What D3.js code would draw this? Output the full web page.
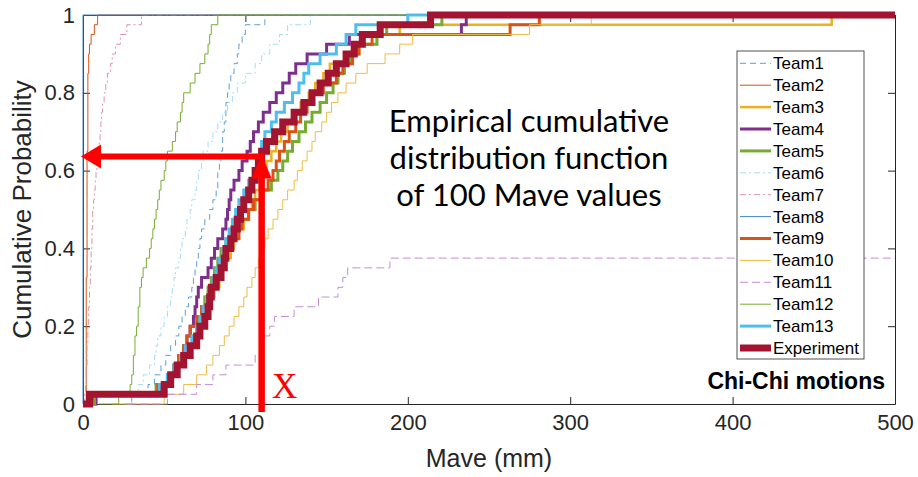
<!DOCTYPE html>
<html>
<head>
<meta charset="utf-8">
<script src="https://cdn.jsdelivr.net/npm/d3@7"></script>
<style>
  body { margin: 0; background: #fff; }
  svg { display: block; font-family: "Liberation Sans", Arial, sans-serif; }
</style>
</head>
<body>
<svg id="chart" width="918" height="477"></svg>
<script>
// Empirical CDFs of Mave.
// Each series lists the Mave value where the curve reaches the matching cumulative probability.
const probLevels = [0, 0.025, 0.05, 0.075, 0.1, 0.125, 0.15, 0.175, 0.2, 0.225, 0.25,
    0.275, 0.3, 0.325, 0.35, 0.375, 0.4, 0.425, 0.45, 0.475, 0.5,
    0.525, 0.55, 0.575, 0.6, 0.625, 0.65, 0.675, 0.7, 0.725, 0.75,
    0.775, 0.8, 0.825, 0.85, 0.875, 0.9, 0.925, 0.95, 0.975, 1];

const team1 = [25, 30, 40, 44, 48, 51, 54, 57, 59, 61, 63, 65, 67, 68, 69, 70, 71, 72, 73, 75, 78,
    80, 82, 83, 83, 84, 85, 86, 86, 87, 88, 88, 89, 90, 91, 93, 95, 96, 98, 100, 112];
const team2 = [1.5, 2, 2, 2, 2, 2, 2, 2, 2, 2, 2, 2, 2, 2, 2.5, 2.5, 2.5, 2.5, 2.5, 2.5, 2.5,
    2.5, 2.5, 2.5, 2.5, 2.5, 2.5, 3, 3, 3, 3, 3, 3, 3, 3, 3.5, 3.5, 4, 5, 7, 9];
const team3 = [3, 8, 47, 53, 57, 61, 65, 68, 71, 74, 77, 79, 81, 84, 86, 88, 91, 93, 96, 99, 102,
    104, 106, 109, 111, 113, 116, 119, 122, 126, 130, 134, 139, 143, 148, 152, 162, 170, 181, 195, 461];
const team4 = [5, 8, 48, 52, 56, 59, 62, 64, 66, 68, 69, 70, 71, 73, 77, 79, 81, 83, 86, 88, 89,
    90, 91, 93, 96, 98, 101, 103, 105, 108, 111, 115, 119, 123, 127, 131, 138, 150, 164, 233, 236];
const team5 = [2, 7, 45, 53, 58, 62, 65, 68, 70, 71, 73, 75, 77, 79, 81, 83, 85, 88, 92, 97, 102,
    106, 111, 116, 120, 123, 126, 129, 133, 137, 141, 146, 150, 154, 157, 161, 165, 169, 181, 187, 221];
const team6 = [28, 30, 34, 37, 41, 44, 45, 46, 48, 50, 52, 54, 55, 56, 57, 59, 60, 61, 63, 64, 66,
    67, 69, 70, 71, 73, 74, 77, 80, 83, 86, 89, 92, 95, 100, 106, 110, 115, 121, 126, 140];
const team7 = [0.5, 1, 1.5, 2, 2, 2.5, 2.5, 3, 3, 3.5, 3.5, 4, 4, 4.5, 4.5, 5, 5, 5.5, 5.5, 6, 6,
    6.5, 7, 7.5, 8, 8.5, 9, 10, 10.5, 11, 11.5, 12, 13, 14, 15, 17, 18, 20, 23, 27, 36];
const team8 = [0, 0, 0, 0, 0, 0, 0, 0, 0, 0, 0, 0, 0, 0, 0, 0, 0, 0, 0, 0, 0,
    0, 0, 0, 0, 0, 0, 0, 0, 0, 0, 0, 0, 0, 0, 0, 0, 0, 0, 0, 0];
const team9 = [3, 6, 46, 52, 56, 59, 62, 64, 66, 70, 73, 76, 79, 82, 84, 87, 89, 92, 96, 98, 102,
    105, 110, 114, 117, 119, 121, 124, 127, 131, 134, 138, 142, 148, 156, 160, 166, 170, 178, 263, 281];
const team10 = [18, 50, 62, 70, 76, 80, 84, 87, 90, 93, 96, 99, 101, 104, 106, 108, 110, 112, 114, 117, 120,
    123, 126, 130, 132, 135, 138, 141, 143, 147, 150, 153, 157, 162, 168, 175, 186, 195, 203, 275, 313];
// only 38% of Team11 values fall below 500 mm
const team11 = [28, 52, 70, 80, 88, 106, 109, 111, 115, 118, 130, 145, 157, 160, 163, 189];
const team12 = [10, 22, 29, 30, 31, 31, 32, 32, 33, 34, 34, 35, 35, 36, 37, 39, 41, 42, 43, 44, 45,
    46, 47, 48, 50, 51, 52, 55, 57, 58, 60, 61, 62, 66, 69, 72, 75, 77, 78, 79, 83];
const team13 = [2, 5, 47, 52, 56, 60, 63, 67, 70, 72, 74, 76, 78, 80, 82, 84, 86, 88, 90, 92, 94,
    96, 99, 102, 105, 107, 109, 110, 112, 116, 119, 124, 129, 133, 136, 139, 146, 156, 162, 168, 200];
const experiment = [0, 4, 50, 54, 58, 62, 66, 70, 72, 75, 77, 78, 79, 82, 85, 87, 88, 91, 93, 95, 97,
    99, 102, 104, 106, 108, 110, 113, 118, 123, 130, 136, 141, 146, 151, 156, 162, 167, 172, 183, 214];

const seriesNames = ["Team1", "Team2", "Team3", "Team4", "Team5", "Team6", "Team7",
    "Team8", "Team9", "Team10", "Team11", "Team12", "Team13", "Experiment"];
const seriesValues = [team1, team2, team3, team4, team5, team6, team7,
    team8, team9, team10, team11, team12, team13, experiment];

const xTicks = [0, 100, 200, 300, 400, 500];
const yTicks = [0, 0.2, 0.4, 0.6, 0.8, 1];

// the marked reading: Mave = X gives cumulative probability ~0.636
const arrowMave = 110;
const arrowProb = 0.636;

// line styles, same order as seriesNames
const seriesStyles = [
    { color: "#5b9fd8", width: 1, dash: "6,4" },
    { color: "#D95319", width: 1, dash: null },
    { color: "#EDB120", width: 2.5, dash: null },
    { color: "#7E2F8E", width: 3, dash: null },
    { color: "#77AC30", width: 3, dash: null },
    { color: "#a6dcf4", width: 1, dash: "6,3,2,3" },
    { color: "#dc93a8", width: 1, dash: "6,3,2,3" },
    { color: "#3f86c8", width: 1, dash: null },
    { color: "#D95319", width: 3, dash: null },
    { color: "#F0BB45", width: 1, dash: null },
    { color: "#C48DD3", width: 1, dash: "8,4" },
    { color: "#77AC30", width: 1, dash: null },
    { color: "#4DBEEE", width: 3, dash: null },
    { color: "#A2142F", width: 7, dash: null }
];

const svg = d3.select("#chart");
const textColor = "#262626";

const x = d3.scaleLinear().domain([0, 500]).range([83, 895]);
const y = d3.scaleLinear().domain([0, 1]).range([404, 15]);

// axes box with inward ticks on all four sides
const axisG = svg.append("g").attr("class", "axes");

axisG.append("g")
    .attr("transform", `translate(0,${y(0)})`)
    .call(d3.axisBottom(x).tickValues(xTicks).tickSizeInner(-7).tickSizeOuter(0).tickPadding(10));
axisG.append("g")
    .attr("transform", `translate(${x(0)},0)`)
    .call(d3.axisLeft(y).tickValues(yTicks).tickSizeInner(-7).tickSizeOuter(0).tickPadding(8)
        .tickFormat(d => d3.format("~g")(d)));
axisG.append("g")
    .attr("transform", `translate(0,${y(1)})`)
    .call(d3.axisTop(x).tickValues(xTicks).tickSizeInner(-7).tickSizeOuter(0).tickFormat(""));
axisG.append("g")
    .attr("transform", `translate(${x(500)},0)`)
    .call(d3.axisRight(y).tickValues(yTicks).tickSizeInner(-7).tickSizeOuter(0).tickFormat(""));

axisG.selectAll("path.domain, line").attr("stroke", textColor).attr("stroke-width", 1);
axisG.selectAll("text")
    .attr("fill", textColor)
    .style("font-size", "22px")
    .style("font-family", "'Liberation Sans', Arial, sans-serif");

// axis labels
svg.append("text")
    .attr("x", (x(0) + x(500)) / 2)
    .attr("y", 467)
    .attr("text-anchor", "middle")
    .attr("fill", textColor)
    .style("font-size", "25px")
    .text("Mave (mm)");

svg.append("text")
    .attr("transform", `translate(31,${(y(0) + y(1)) / 2}) rotate(-90)`)
    .attr("text-anchor", "middle")
    .attr("fill", textColor)
    .style("font-size", "26px")
    .text("Cumulative Probability");

// ECDF stairs
const stairs = d3.line()
    .x(d => x(d[0]))
    .y(d => y(d[1]))
    .curve(d3.curveStepAfter);

const curveG = svg.append("g").attr("class", "curves");
seriesValues.forEach((vals, i) => {
    const pts = vals.map((v, k) => [v, probLevels[k]]);
    pts.push([500, probLevels[vals.length - 1]]);
    const st = seriesStyles[i];
    curveG.append("path")
        .datum(pts)
        .attr("d", stairs)
        .attr("fill", "none")
        .attr("stroke", st.color)
        .attr("stroke-width", st.width)
        .attr("stroke-dasharray", st.dash)
        .attr("stroke-linejoin", "miter");
});

// red arrows marking the reading at Mave = X
const red = "#FF0000";
const ax = x(arrowMave);
const ay = y(arrowProb);
const arrowG = svg.append("g").attr("class", "arrows");

arrowG.append("line")
    .attr("x1", ax + 3).attr("x2", x(0) + 16)
    .attr("y1", ay).attr("y2", ay)
    .attr("stroke", red).attr("stroke-width", 6);
arrowG.append("path")
    .attr("d", `M${x(0) - 2},${ay} L${x(0) + 18},${ay - 12} L${x(0) + 18},${ay + 12} Z`)
    .attr("fill", red);

arrowG.append("line")
    .attr("x1", ax).attr("x2", ax)
    .attr("y1", y(0) + 8).attr("y2", ay + 20)
    .attr("stroke", red).attr("stroke-width", 6.5);
arrowG.append("path")
    .attr("d", `M${ax},${ay - 2} L${ax - 10},${ay + 22} L${ax + 10},${ay + 22} Z`)
    .attr("fill", red);

svg.append("text")
    .attr("x", ax + 23)
    .attr("y", 398)
    .attr("text-anchor", "middle")
    .attr("fill", red)
    .style("font-family", "'Liberation Serif', 'Times New Roman', serif")
    .style("font-size", "35px")
    .text("X");

// annotation
const noteLines = ["Empirical cumulative", "distribution function", "of 100 Mave values"];
svg.append("g")
    .selectAll("text")
    .data(noteLines)
    .join("text")
    .attr("x", 529)
    .attr("y", (d, i) => 132 + i * 37)
    .attr("text-anchor", "middle")
    .attr("fill", "#000")
    .style("font-family", "Lato, 'Open Sans', sans-serif")
    .style("font-size", "31px")
    .text(d => d);

svg.append("text")
    .attr("x", 885)
    .attr("y", 389)
    .attr("text-anchor", "end")
    .attr("fill", "#000")
    .style("font-weight", "bold")
    .style("font-size", "23px")
    .text("Chi-Chi motions");

// legend
const legend = svg.append("g").attr("class", "legend");
const legX = 737, legY = 51, rowH = 21.9;
legend.append("rect")
    .attr("x", legX).attr("y", legY)
    .attr("width", 127).attr("height", 308)
    .attr("fill", "#fff")
    .attr("stroke", textColor)
    .attr("stroke-width", 0.8);

const rows = legend.selectAll("g.row")
    .data(seriesNames)
    .join("g")
    .attr("class", "row")
    .attr("transform", (d, i) => `translate(${legX},${legY + 12.3 + i * rowH})`);

rows.append("line")
    .attr("x1", 3).attr("x2", 34)
    .attr("stroke", (d, i) => seriesStyles[i].color)
    .attr("stroke-width", (d, i) => seriesStyles[i].width)
    .attr("stroke-dasharray", (d, i) => seriesStyles[i].dash);

rows.append("text")
    .attr("x", 36)
    .attr("dy", "0.35em")
    .attr("fill", "#000")
    .style("font-size", "17px")
    .text(d => d);
</script>
</body>
</html>
